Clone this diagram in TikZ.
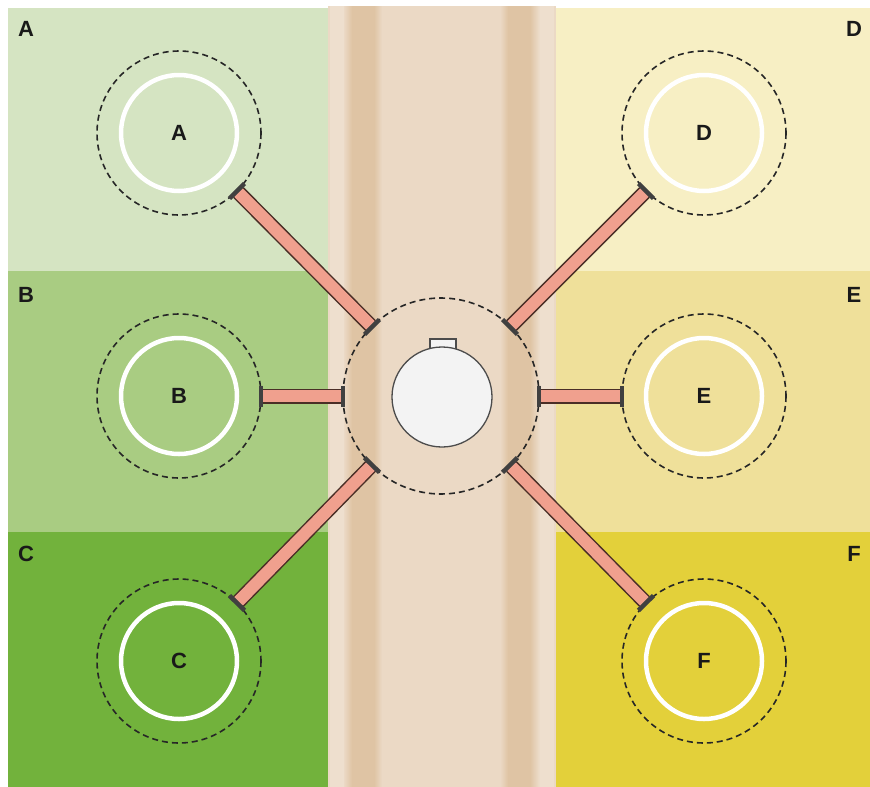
\documentclass[tikz,border=0pt]{standalone}
\usepackage{fontspec}
\setmainfont{Liberation Sans}
\usetikzlibrary{calc}
\definecolor{pA}{HTML}{D5E4C2}
\definecolor{pB}{HTML}{A9CC82}
\definecolor{pC}{HTML}{72B23C}
\definecolor{pD}{HTML}{F7EFC4}
\definecolor{pE}{HTML}{EFE09A}
\definecolor{pF}{HTML}{E3D03A}
\definecolor{road}{HTML}{EBD9C5}
\definecolor{roadband}{HTML}{DFC4A4}
\definecolor{roadedge}{HTML}{EEDFCE}
\definecolor{pipefill}{HTML}{F0A08E}
\definecolor{pipeline}{HTML}{4A2E26}
\definecolor{tankfill}{HTML}{F3F3F3}
\tikzset{
  ring/.style={draw=white,line width=4.5pt},
  zone/.style={draw=black!85,line width=1.6pt,dash pattern=on 6pt off 4pt},
  lbl/.style={font=\bfseries\fontsize{22}{26}\selectfont,text=black!90,inner sep=0pt},
  pipeout/.style={line width=15pt,draw=pipeline,line cap=butt},
  pipein/.style={line width=12pt,draw=pipefill,line cap=butt},
  pipecap/.style={line width=4.5pt,draw=black!75,line cap=butt},
}
\begin{document}
\begin{tikzpicture}[x=1pt,y=-1pt]
\useasboundingbox (0,0) rectangle (870,787);
\fill[white] (0,0) rectangle (870,787);
% panels
\fill[pA] (8,8) rectangle (328,271);
\fill[pB] (8,271) rectangle (328,532);
\fill[pC] (8,532) rectangle (328,787);
\fill[pD] (556,8) rectangle (870,271);
\fill[pE] (556,271) rectangle (870,532);
\fill[pF] (556,532) rectangle (870,787);
% road
\fill[road] (328,6) rectangle (556,787);
\fill[roadedge] (330,6) rectangle (344,787);
\fill[roadedge] (540,6) rectangle (554,787);
\shade[left color=road,right color=roadband] (344,6) rectangle (352,787);
\fill[roadband] (352,6) rectangle (374,787);
\shade[left color=roadband,right color=road] (374,6) rectangle (382,787);
\shade[left color=road,right color=roadband] (500,6) rectangle (508,787);
\fill[roadband] (508,6) rectangle (530,787);
\shade[left color=roadband,right color=roadedge] (530,6) rectangle (540,787);
% corner labels
\node[lbl] (tA) at (26,29) {A};
\node[lbl] (tB) at (26,295) {B};
\node[lbl] (tC) at (26,554) {C};
\node[lbl] (tD) at (854,29) {D};
\node[lbl] (tE) at (854,295) {E};
\node[lbl] (tF) at (854,554) {F};
% centers
\coordinate (cA) at (179,133);
\coordinate (cB) at (179,396);
\coordinate (cC) at (179,661);
\coordinate (cD) at (704,133);
\coordinate (cE) at (704,396);
\coordinate (cF) at (704,661);
\coordinate (cM) at (441,396);
% plots
\foreach \c/\t in {cA/A,cB/B,cC/C,cD/D,cE/E,cF/F}{
  \draw[ring] (\c) circle (58);
  \draw[zone] (\c) circle (82);
  \node[lbl] (l\t) at (\c) {\t};
}
% central zone and tank
\draw[zone] (cM) circle (98);
\draw[draw=black!70,fill=tankfill,line width=1.3pt] (430,339) rectangle (456,352);
\node[circle,draw=black!70,fill=tankfill,line width=1.3pt,minimum size=100pt,inner sep=0pt] (tank) at (442,397) {};
% pipe ends
\coordinate (a1) at (237,191); \coordinate (a2) at (372,327);
\coordinate (b1) at (261,396); \coordinate (b2) at (343,396);
\coordinate (c1) at (237,603); \coordinate (c2) at (372,465);
\coordinate (d1) at (646,191); \coordinate (d2) at (510,327);
\coordinate (e1) at (622,396); \coordinate (e2) at (539,396);
\coordinate (f1) at (646,603); \coordinate (f2) at (510,465);
\foreach \p in {a,b,c,d,e,f}{
  \draw[pipeout] ($(\p1)!2pt!(\p2)$) -- ($(\p2)!2pt!(\p1)$);
  \draw[pipein] ($(\p1)!2pt!(\p2)$) -- ($(\p2)!2pt!(\p1)$);
  \draw[pipecap] ($(\p1)!10.5pt!90:(\p2)$) -- ($(\p1)!10.5pt!-90:(\p2)$);
  \draw[pipecap] ($(\p2)!10.5pt!90:(\p1)$) -- ($(\p2)!10.5pt!-90:(\p1)$);
}
\end{tikzpicture}
\end{document}
